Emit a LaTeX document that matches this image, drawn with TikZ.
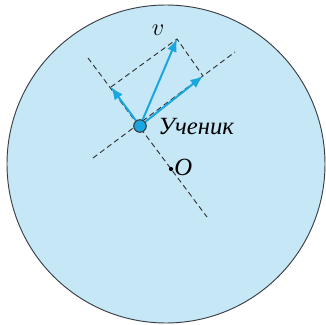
\documentclass[tikz,border=0pt]{standalone}
\usepackage{fontspec}
\setmainfont{Liberation Serif}
\newfontfamily\ucserif{Liberation Serif}
\usetikzlibrary{arrows.meta,positioning,calc}
\definecolor{ucDisc}{HTML}{C6E7F6}
\definecolor{ucCyan}{HTML}{1AA6DF}
\definecolor{ucRim}{HTML}{3A3F45}
\begin{document}
\begin{tikzpicture}[x=0.85pt, y=-0.85pt,
  dsh/.style={dash pattern=on 4.5pt off 3pt, line width=0.8pt, black!80},
  vec/.style={-{Latex[length=3.8mm, width=3mm]}, line width=1.7pt, ucCyan},
  pupil/.style={circle, fill=ucCyan, draw=ucRim, line width=0.8pt, inner sep=0pt, minimum size=10.5pt},
  ctr/.style={circle, fill=black, inner sep=0pt, minimum size=3.6pt},
  lbl/.style={font=\ucserif\fontsize{21}{23}\selectfont\itshape, inner sep=1pt}]
\useasboundingbox (0,0) rectangle (326,325);
% ── диск
\draw[fill=ucDisc, draw=ucRim, line width=0.8pt] (166,164) circle (159);
% ── оси
\coordinate (r1) at (88,58);
\coordinate (r2) at (207,217);
\coordinate (t1) at (93,158);
\coordinate (t2) at (235,52);
\draw[dsh] (r1) -- (r2);
\draw[dsh] (t1) -- (t2);
% ── скорость и её составляющие
\coordinate (vr) at (111,87);
\coordinate (vt) at (203,76);
\coordinate (vv) at (177,39);
\draw[dsh] (vr) -- (vv) -- (vt);
\node[pupil] (uc) at (140,126) {};
\node[ctr] (o) at (171,169) {};
\foreach \p in {vr,vv,vt}{\draw[vec] (uc) -- (\p);}
\node[pupil] at (uc) {};
\node[lbl, anchor=west] (ucl) at (157,127) {Ученик};
\node[lbl, anchor=west] (ol) at (173,167) {O};
\node[lbl] (vl) at (158,30) {$v$};
\end{tikzpicture}
\end{document}
